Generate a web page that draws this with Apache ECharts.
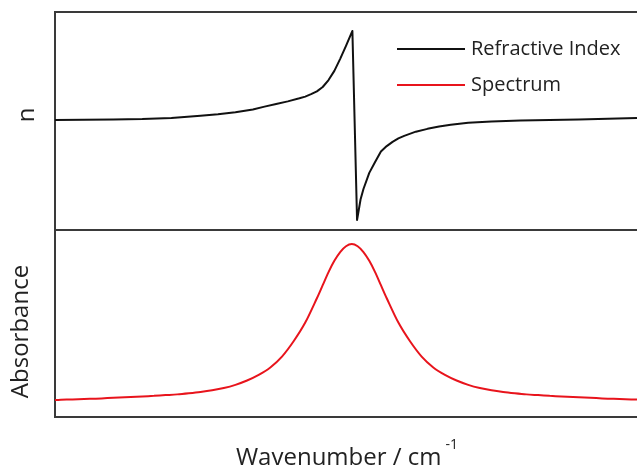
<!DOCTYPE html>
<html>
<head>
<meta charset="utf-8">
<script src="https://cdn.jsdelivr.net/npm/echarts@6/dist/echarts.min.js"></script>
<style>html,body{margin:0;padding:0;background:#fff;}#c{width:637px;height:472px;}</style>
</head>
<body>
<div id="c"></div>
<script>
// Refractive index (top panel)
const nX = [0, 5, 10, 15, 20, 25, 28, 31, 34, 36, 38, 40, 42, 43, 44, 45, 46, 47, 48, 49, 50, 51.1, 51.9, 52.5, 53, 54, 55, 56, 57, 58, 59, 60, 62, 64, 66, 68, 71, 75, 80, 85, 90, 95, 100];
const nY = [1.505, 1.506, 1.507, 1.509, 1.514, 1.524, 1.531, 1.540, 1.553, 1.566, 1.578, 1.590, 1.604, 1.612, 1.623, 1.636, 1.656, 1.688, 1.730, 1.785, 1.845, 1.913, 1.046, 1.140, 1.188, 1.262, 1.312, 1.360, 1.385, 1.404, 1.420, 1.432, 1.451, 1.464, 1.475, 1.483, 1.492, 1.498, 1.502, 1.505, 1.507, 1.510, 1.514];
// Absorbance spectrum (bottom panel)
const aX = [0, 1, 3, 5, 7, 9, 11, 13, 15, 17, 19, 21, 23, 25, 27, 29, 31, 33, 35, 37, 39, 41, 43, 45, 46, 47, 48, 49, 50, 51, 52, 53, 54, 55, 56, 57, 59, 61, 63, 65, 67, 69, 71, 73, 75, 77, 79, 81, 83, 85, 87, 89, 91, 93, 95, 97, 99, 100];
const aY = [0.091, 0.092, 0.094, 0.096, 0.098, 0.101, 0.104, 0.107, 0.110, 0.113, 0.117, 0.121, 0.127, 0.134, 0.143, 0.155, 0.172, 0.195, 0.225, 0.265, 0.323, 0.405, 0.505, 0.635, 0.705, 0.775, 0.835, 0.882, 0.913, 0.925, 0.913, 0.882, 0.835, 0.775, 0.705, 0.635, 0.505, 0.405, 0.323, 0.265, 0.225, 0.195, 0.172, 0.155, 0.143, 0.134, 0.127, 0.121, 0.117, 0.113, 0.110, 0.107, 0.104, 0.101, 0.098, 0.096, 0.094, 0.093];

const seriesNames = ['Refractive Index', 'Spectrum'];
const FONT = '"Open Sans", sans-serif';

const chart = echarts.init(document.getElementById('c'), null, {renderer: 'canvas'});
const hiddenAxis = {axisLine: {show: false}, axisTick: {show: false}, axisLabel: {show: false}, splitLine: {show: false}};

chart.setOption({
  animation: false,
  backgroundColor: '#fff',
  grid: [
    {left: 55, right: -10, top: 12, height: 218, show: true, borderColor: '#3a3a3a', borderWidth: 2, backgroundColor: 'transparent', outerBoundsMode: 'none', containLabel: false},
    {left: 55, right: -10, top: 230, height: 187, show: true, borderColor: '#3a3a3a', borderWidth: 2, backgroundColor: 'transparent', outerBoundsMode: 'none', containLabel: false}
  ],
  legend: {
    data: seriesNames,
    orient: 'vertical',
    left: 392, top: 34,
    icon: 'rect', itemWidth: 68, itemHeight: 2, itemGap: 16,
    textStyle: {fontFamily: FONT, fontSize: 20, color: '#222', padding: [0, 0, 0, 1]}
  },
  xAxis: [
    Object.assign({type: 'value', gridIndex: 0, min: 0, max: 101.72}, hiddenAxis),
    Object.assign({type: 'value', gridIndex: 1, min: 0, max: 101.72,
      name: '{a|Wavenumber / cm}{s|-1}', nameLocation: 'middle', nameGap: 21,
      nameTextStyle: {padding: [0, 8, 0, 0], rich: {
        a: {fontFamily: FONT, fontSize: 24, color: '#222', verticalAlign: 'bottom'},
        s: {fontFamily: FONT, fontSize: 14, color: '#222', verticalAlign: 'top', padding: [0, 0, 18, 4]}
      }}}, hiddenAxis)
  ],
  yAxis: [
    Object.assign({type: 'value', gridIndex: 0, min: 1.0, max: 2.0,
      name: 'n', nameLocation: 'middle', nameRotate: 90, nameGap: 16,
      nameTextStyle: {fontFamily: FONT, fontSize: 24, color: '#222', padding: [0, 0, 0, 12]}}, hiddenAxis),
    Object.assign({type: 'value', gridIndex: 1, min: 0, max: 1,
      name: 'Absorbance', nameLocation: 'middle', nameRotate: 90, nameGap: 22,
      nameTextStyle: {fontFamily: FONT, fontSize: 24, color: '#222', padding: [0, 16, 0, 0]}}, hiddenAxis)
  ],
  series: [
    {name: seriesNames[0], type: 'line', xAxisIndex: 0, yAxisIndex: 0, showSymbol: false, symbol: 'none',
      smooth: false, lineStyle: {color: '#111', width: 2, join: 'round'}, itemStyle: {color: '#111'},
      data: nX.map((x, i) => [x, nY[i]])},
    {name: seriesNames[1], type: 'line', xAxisIndex: 1, yAxisIndex: 1, showSymbol: false, symbol: 'none',
      smooth: 0.3, lineStyle: {color: '#e8141c', width: 2}, itemStyle: {color: '#e8141c'},
      data: aX.map((x, i) => [x, aY[i]])}
  ]
});
</script>
</body>
</html>
